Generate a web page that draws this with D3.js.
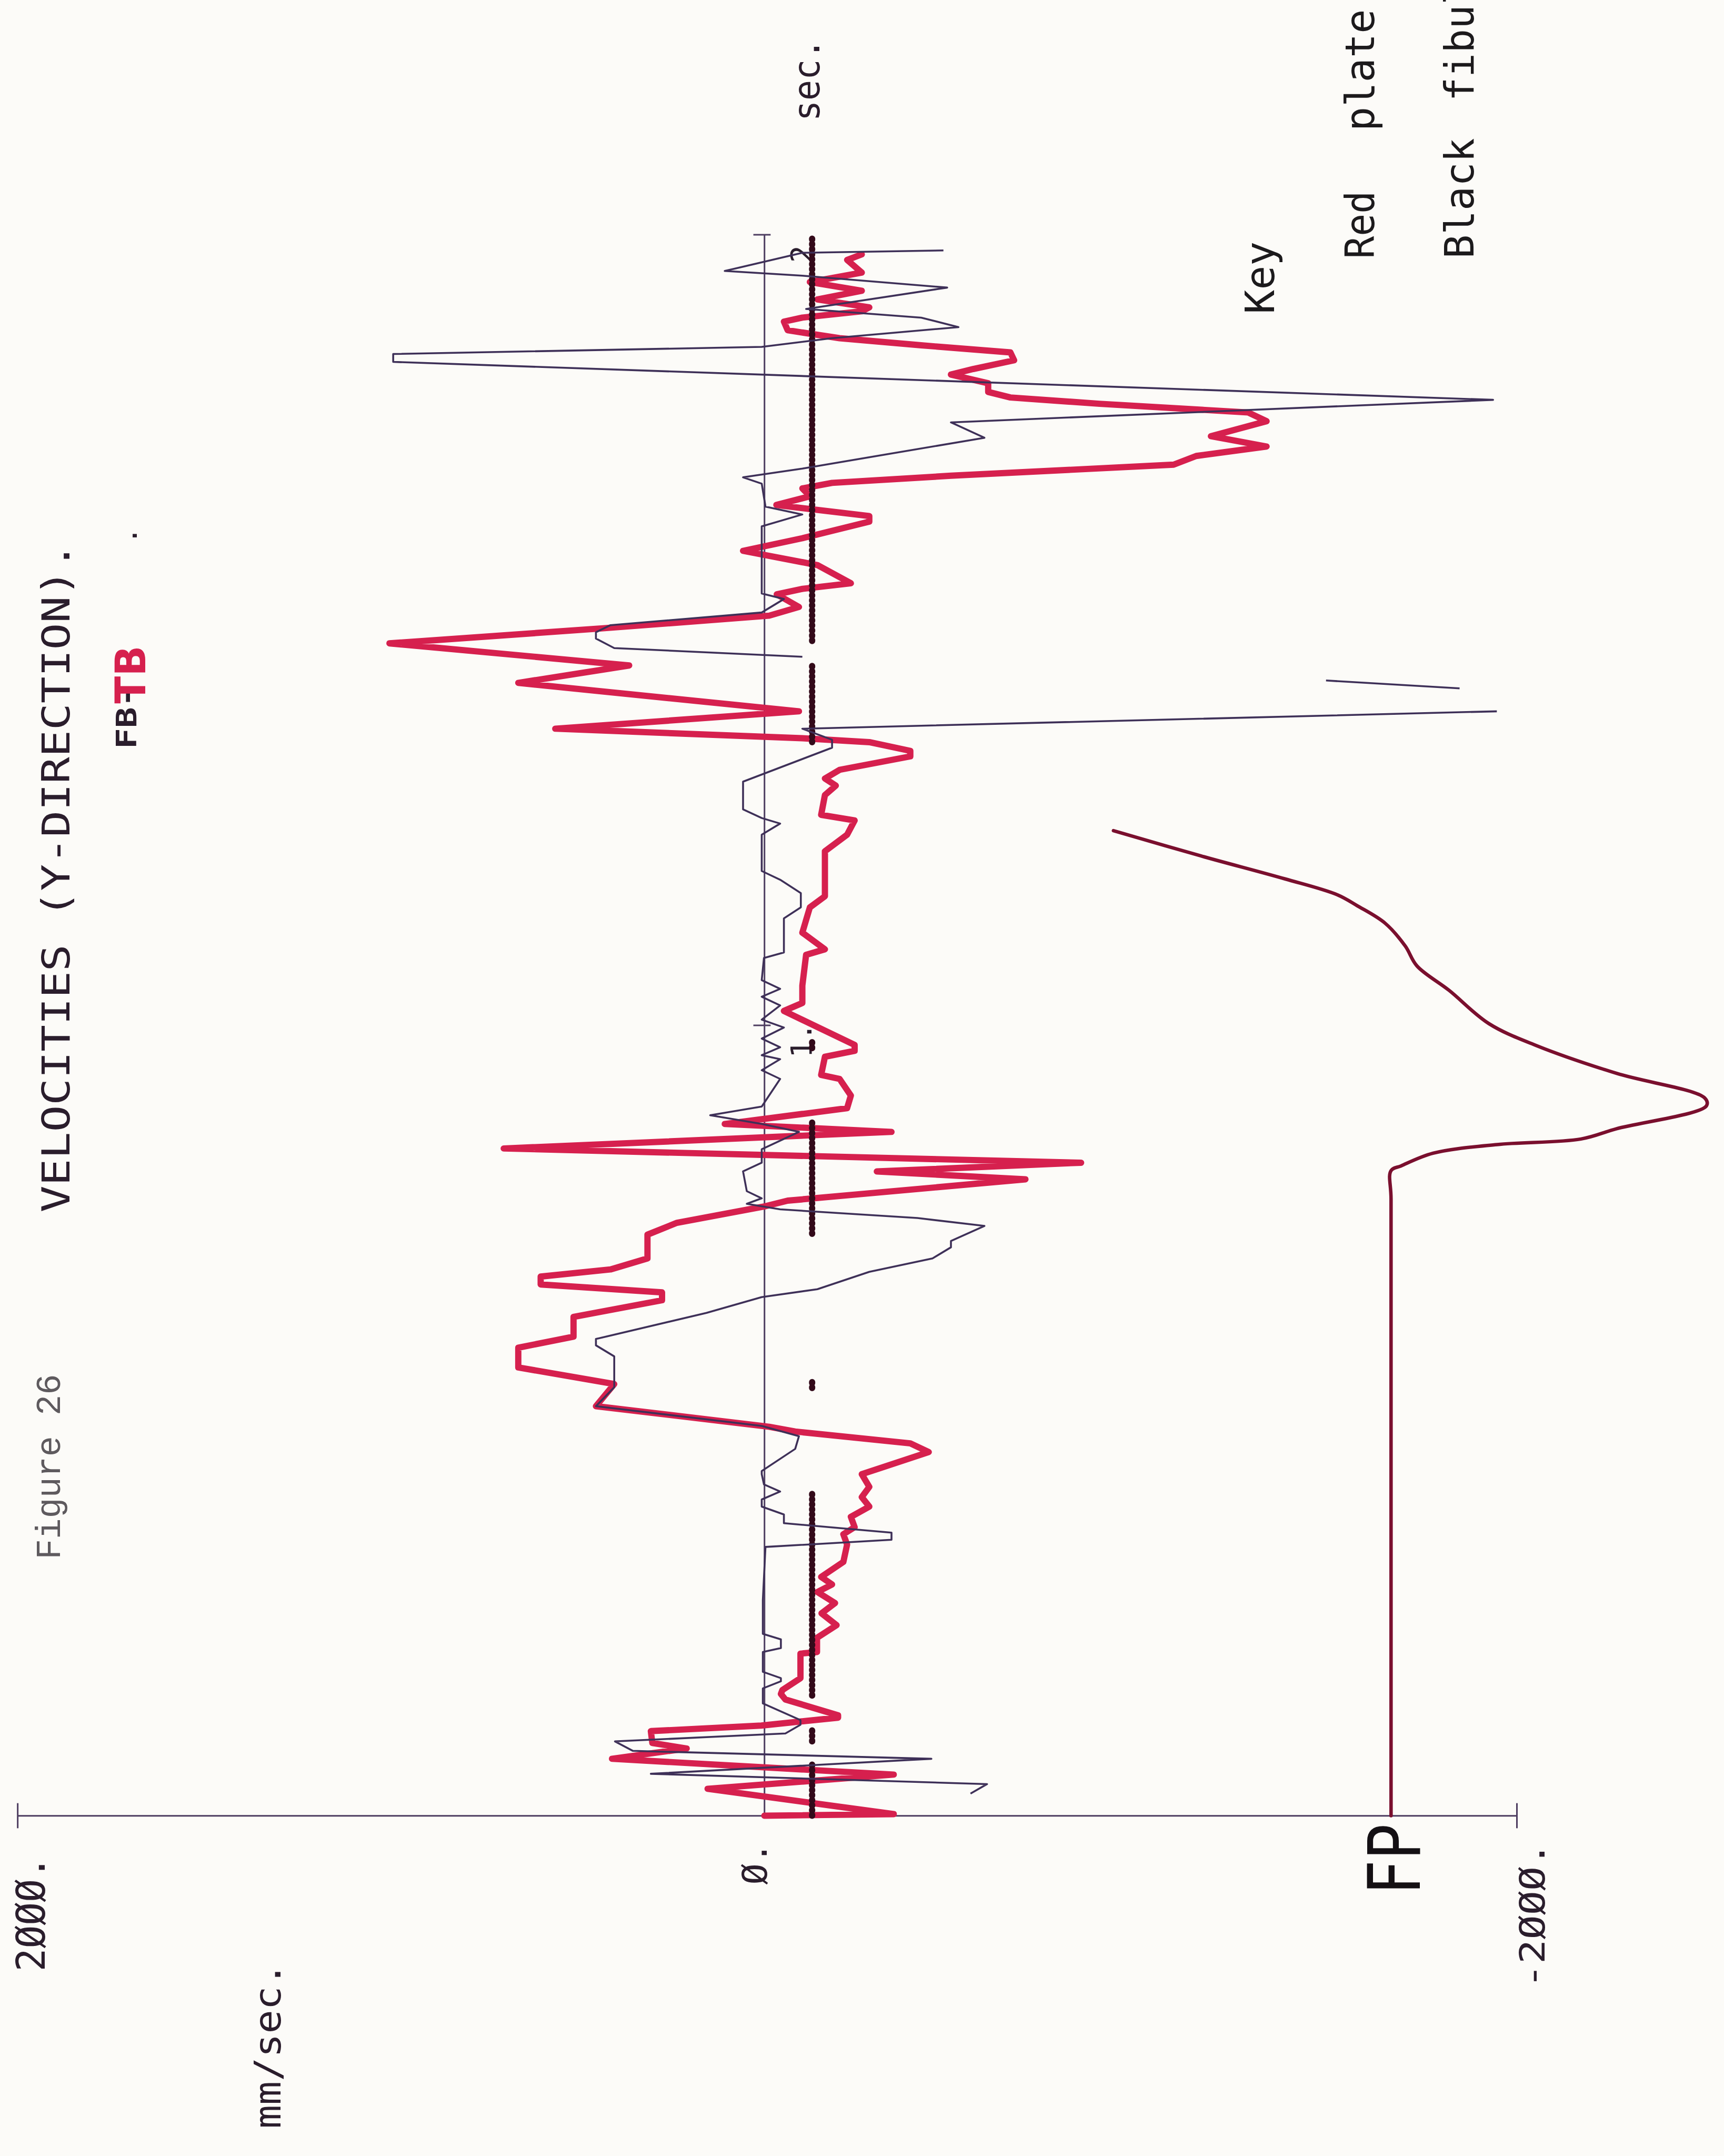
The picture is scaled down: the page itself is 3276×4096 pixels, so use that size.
<!DOCTYPE html>
<html>
<head>
<meta charset="utf-8">
<title>Figure 26 - Velocities (Y-direction)</title>
<script src="https://cdn.jsdelivr.net/npm/d3@7"></script>
<style>
  body { margin: 0; background: #fcfbf8; }
  svg { display: block; }
</style>
</head>
<body>
<div id="chart"></div>
<script>
// time in sec, velocity in mm/sec
const plateT = [0, 0.002, 0.034, 0.052, 0.072, 0.085, 0.092, 0.107, 0.114, 0.124, 0.127, 0.147, 0.154, 0.159, 0.174, 0.205, 0.207, 0.225, 0.241, 0.256, 0.269,
  0.283, 0.2925, 0.302, 0.321, 0.343, 0.356, 0.365, 0.378, 0.391, 0.403, 0.416, 0.432,
  0.460, 0.471, 0.486, 0.492, 0.518, 0.546, 0.567, 0.592, 0.606, 0.631, 0.652, 0.662, 0.672, 0.682, 0.691, 0.705, 0.735, 0.750, 0.771, 0.778, 0.805, 0.815, 0.826, 0.844, 0.865, 0.875, 0.895, 0.911, 0.932, 0.937, 0.960, 0.9675,
  0.975, 1.018, 1.028, 1.050, 1.089, 1.096, 1.117, 1.149, 1.163, 1.220, 1.241, 1.259, 1.266, 1.291, 1.303, 1.312, 1.323, 1.340, 1.347, 1.358, 1.363, 1.375, 1.397, 1.433, 1.455, 1.483,
  1.502, 1.518, 1.529, 1.545, 1.552, 1.559, 1.582, 1.600, 1.616, 1.637, 1.644, 1.658, 1.669, 1.679, 1.686, 1.695, 1.709, 1.720, 1.732, 1.745, 1.764, 1.775, 1.786, 1.794, 1.801, 1.812, 1.823, 1.830, 1.841, 1.851, 1.860, 1.869, 1.879, 1.890, 1.895, 1.903, 1.908, 1.918, 1.929, 1.940, 1.952, 1.968, 1.975];
const plateV = [0, -344, 152, -344, 408, 208, 300, 304, 8, -196, -196, -56, -44, -48, -96, -96, -140, -140, -192, -152, -188,
  -141, -180, -151, -210, -220, -210, -240, -230, -279, -259, -279, -259,
  -437, -388, -82, -13, 451, 402, 659, 659, 511, 511, 274, 274, 599, 599, 412, 313, 313, 234, -3, -62, -694, -299, -842, 698, -338, 106, -220, -230, -200, -151, -161, -240,
  -240, -52, -101, -101, -111, -161, -101, -121, -161, -161, -220, -240, -151, -161, -190, -161, -200, -388, -388, -279, -101, 560, -92, 659, 362, 1004,
  432, -13, -92, -33, -102, -230, -141, 57, -101, -279, -279, -32, -121, -101, -180, -496, -1088, -1148, -1335, -1187, -1335, -1286, -891, -654, -595, -595, -496, -555, -664, -654, -417, -200, -62, -52, -101, -259, -279, -141, -259, -121, -259, -220, -259];

// fibula trace, null = pen lifted
const fibT = [0.028, 0.040, 0.053, 0.072, 0.082, 0.094, 0.104, 0.115, 0.121, 0.142, 0.161, 0.170, 0.174, 0.182, 0.207, 0.212, 0.223, 0.230, 0.273,
  0.340, 0.349, 0.358, 0.370, 0.381, 0.391, 0.400, 0.410, 0.419, 0.432,
  0.436, 0.464, 0.480, 0.493, 0.518, 0.542, 0.581, 0.595, 0.603, 0.636, 0.656, 0.666, 0.688, 0.705, 0.719, 0.727, 0.746, 0.756, 0.767, 0.774, 0.781, 0.790, 0.815, 0.826, 0.843, 0.865, 0.875, 0.886, 0.897, 0.932, 0.943, 0.957,
  0.962, 0.972, 0.983, 0.997, 1.007, 1.025, 1.036, 1.046, 1.057, 1.085, 1.092, 1.135, 1.149, 1.167, 1.184, 1.195, 1.241, 1.255, 1.262, 1.273, 1.308, 1.351, 1.361, 1.375, 1.397, 1.41, 1.426, 1.436, 1.45, 1.466, 1.477, 1.489,
  1.497, 1.506, 1.522, 1.539, 1.546, 1.631, 1.646, 1.656, 1.685, 1.693, 1.704, 1.720, 1.743, 1.7625, 1.791, 1.839, 1.849, 1.858, 1.869, 1.883, 1.895, 1.906, 1.933, 1.948, 1.954, 1.977, 1.980];
const fibV = [-548, -592, 304, -444, 352, 400, -56, -96, -96, 4, 4, -44, -44, 4, 4, -44, -44, 4, 4,
  -3, -338, -338, -52, -52, 7, 7, -42, 1, 7,
  7, -82, -92, 7, 451, 402, 402, 451, 451, 155, 7, -141, -279, -447, -496, -496, -585, -407, -42, 47, 7, 47, 57, 7, 7, -92, 7, 145, 7, -42, 7, -42,
  7, -42, 7, -52, 7, -42, 7, -42, 7, 1, -52, -52, -97, -97, -42, 7, 7, -42, 7, 57, 57, -180, -180, -101, -1947, null, -1848, -1493, null, -101, 402, 451,
  451, 412, 7, -52, 7, 7, -101, -3, 7, 57, -101, -299, -585, -496, -1937, 994, 994, 7, -180, -516, -417, -111, -486, -101, 106, -101, -476];

// force plate trace (own units, 0 = baseline)
const fpT = [0, 0.4, 0.78, 0.816, 0.822, 0.838, 0.849, 0.856, 0.869, 0.898, 0.908, 0.939, 0.974, 1.002, 1.044, 1.075, 1.100, 1.129, 1.151, 1.165, 1.185, 1.214, 1.246];
const fpV = [0, 0, 0, 0, 27, 112, 283, 507, 602, 842, 837, 602, 389, 261, 155, 69, 38, -16, -90, -144, -283, -507, -741];

// thick dotted marker line
const markStart = [0, 0.094, 0.152, 0.541, 0.736, 0.971, 1.358, 1.486];
const markEnd = [0.065, 0.113, 0.410, 0.549, 0.878, 0.979, 1.456, 1.999];
const markLevel = -127;

const velTicks = [2000, -2000];
const timeTicks = [1, 2];
const timeLabels = ["1.", "2"];

const W = 5499, H = 6875;
const mono = "'DejaVu Sans Mono', monospace";
const ink = "#2a1d2c";
const axisCol = "#4d3d60";
const red = "#d6204e";

const svg = d3.select("#chart").append("svg")
  .attr("width", 3276).attr("height", 4096)
  .attr("viewBox", `0 0 ${W} ${H}`);
svg.append("rect").attr("width", W).attr("height", H).attr("fill", "#fcfbf8");

// velocity runs across the page, time runs up the page
const x = d3.scaleLinear().domain([2000, 0, -2000]).range([56, 2438, 4838]);
const y = d3.scaleLinear().domain([0, 2]).range([5790, 748]);
const fpX = d3.scaleLinear().domain([0, 1000]).range([4437, 5632]);

// axes
const xAxis = svg.append("g").attr("transform", `translate(0,${y(0)})`)
  .call(d3.axisBottom(x).tickValues(velTicks).tickSize(40).tickSizeOuter(0).tickFormat(""));
xAxis.selectAll(".tick line").attr("y1", -40).attr("y2", 40);
const yAxis = svg.append("g").attr("transform", `translate(${x(0)},0)`)
  .call(d3.axisLeft(y).tickValues(timeTicks).tickSize(35).tickSizeOuter(0).tickFormat(""));
yAxis.selectAll(".tick line").attr("x1", 20).attr("x2", -35);
svg.selectAll(".domain, .tick line").attr("stroke", axisCol).attr("stroke-width", 5);

function vlabel(px, py, str, o) {
  const t = svg.append("text")
    .attr("transform", `translate(${px},${py}) rotate(-90)`)
    .attr("font-family", o.family || mono)
    .attr("font-size", o.size)
    .attr("fill", o.fill || ink)
    .attr("text-anchor", "start")
    .text(str);
  if (o.len) t.attr("textLength", o.len).attr("lengthAdjust", "spacingAndGlyphs");
  if (o.weight) t.attr("font-weight", o.weight);
  return t;
}

// tick labels
vlabel(x(2000) + 87, 6287, "2ØØØ.", {size: 126, len: 369});
vlabel(x(0) + 8, 6010, "Ø.", {size: 108, len: 135});
vlabel(x(-2000) + 89, 6340, "-2ØØØ.", {size: 110, len: 466});
timeTicks.forEach((t, i) => {
  vlabel(x(0) + 150, y(t) + (i === 0 ? 104 : 90), timeLabels[i], {size: 92});
});
vlabel(2613, 386, "sec.", {size: 118, len: 263});
vlabel(895, 6788, "mm/sec.", {size: 118, len: 530});

// titles
vlabel(192, 4973, "Figure 26", {family: "'Liberation Mono', 'Courier New', monospace", size: 112, len: 591, fill: "#5e5a5e"});
vlabel(221, 3866, "VELOCITIES (Y-DIRECTION).", {size: 122, len: 2136});
vlabel(436, 1735, ".", {size: 90});
vlabel(434, 2388, "FB-", {size: 90, len: 200, weight: "bold"});
vlabel(463, 2243, "TB", {family: "'DejaVu Sans', sans-serif", size: 135, len: 184, weight: "bold", fill: red});

// key
vlabel(4063, 1001, "Key", {size: 128, len: 231, fill: "#1c1a1c"});
vlabel(4382, 825, "Red", {size: 128, len: 216, fill: "#1c1a1c"});
vlabel(4382, 418, "plate", {size: 128, len: 389, fill: "#1c1a1c"});
vlabel(4700, 825, "Black", {size: 128, len: 385, fill: "#1c1a1c"});
vlabel(4700, 323, "fibula", {size: 128, len: 462, fill: "#1c1a1c"});

// traces
const line = d3.line()
  .defined(d => d.v !== null)
  .x(d => x(d.v))
  .y(d => y(d.t));

const plate = plateT.map((t, i) => ({t: t, v: plateV[i]}));
const fib = fibT.map((t, i) => ({t: t, v: fibV[i]}));

svg.append("path").datum(plate).attr("d", line)
  .attr("fill", "none").attr("stroke", red).attr("stroke-width", 20)
  .attr("stroke-linejoin", "round").attr("stroke-linecap", "round");

markStart.forEach((s, i) => {
  svg.append("line")
    .attr("x1", x(markLevel)).attr("x2", x(markLevel))
    .attr("y1", y(s)).attr("y2", y(markEnd[i]))
    .attr("stroke", "#330a1a").attr("stroke-width", 20)
    .attr("stroke-dasharray", "3,13").attr("stroke-linecap", "round");
});

svg.append("path").datum(fib).attr("d", line)
  .attr("fill", "none").attr("stroke", "#3e3058").attr("stroke-width", 6)
  .attr("stroke-linejoin", "round");

// force plate drawn as a smooth pen curve
const fpLine = d3.line().x((d, i) => fpX(fpV[i])).y(d => y(d))
  .curve(d3.curveCatmullRom.alpha(0.5));
svg.append("path").datum(fpT).attr("d", fpLine)
  .attr("fill", "none").attr("stroke", "#7a0f2e").attr("stroke-width", 11)
  .attr("stroke-linejoin", "round").attr("stroke-linecap", "round");

vlabel(fpX(0) + 91, 6040, "FP", {family: "'DejaVu Sans', sans-serif", size: 230, len: 223, fill: "#141014"});
</script>
</body>
</html>
